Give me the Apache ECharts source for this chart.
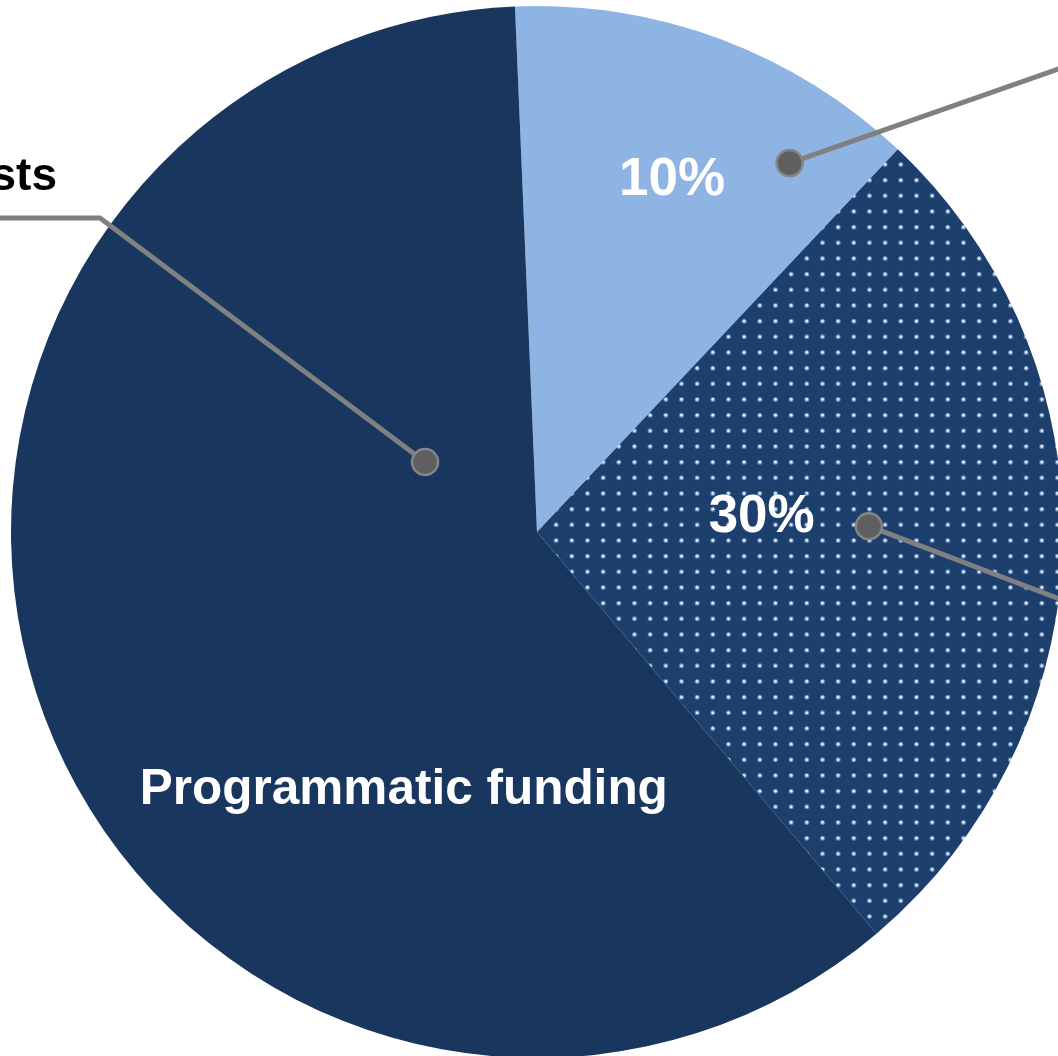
<!DOCTYPE html>
<html>
<head>
<meta charset="utf-8">
<script src="https://cdn.jsdelivr.net/npm/echarts@6/dist/echarts.min.js"></script>
<style>
html,body{margin:0;padding:0;background:#fff;}
#chart{width:1058px;height:1056px;}
</style>
</head>
<body>
<div id="chart"></div>
<script>
// ---- data ----
const categories = ['Indirect costs (light)', 'Indirect costs (dotted)', 'Programmatic funding'];
const values = [12.7, 26.8, 60.5];
const sliceLabels = ['10%', '30%', 'Programmatic funding'];
const outsideLabel = 'Indirect costs';

// ---- layout ----
const CX = 537, CY = 532, R = 526;
const labelPolar = [[69, 0.717], [3.6, 0.428], [242.7, 0.552]]; // [angle deg, radius fraction]

function polar(a, f) {
  const rad = a * Math.PI / 180;
  return [CX + Math.cos(rad) * R * f, CY - Math.sin(rad) * R * f];
}

// dotted pattern
const tile = document.createElement('canvas');
tile.width = 47; tile.height = 47;
const g = tile.getContext('2d');
g.fillStyle = '#1d3f6d';
g.fillRect(0, 0, 47, 47);
for (let i = 0; i < 3; i++) {
  for (let j = 0; j < 3; j++) {
    const x = 7.8 + 15.67 * i, y = 7.8 + 15.67 * j;
    g.fillStyle = 'rgba(170,198,235,0.55)';
    g.beginPath(); g.arc(x, y, 2.5, 0, Math.PI * 2); g.fill();
    g.fillStyle = 'rgba(228,238,252,0.95)';
    g.beginPath(); g.arc(x, y, 1.4, 0, Math.PI * 2); g.fill();
  }
}

const colors = ['#8eb4e3', { image: tile, repeat: 'repeat' }, '#18365e'];

const chart = echarts.init(document.getElementById('chart'), null, { renderer: 'canvas' });

const dotDark = polar(148, 0.251);
const dotLight = polar(55.6, 0.850);
const dotDotted = polar(1.0, 0.631);

const lineStyle = { stroke: '#808080', lineWidth: 5, fill: null };
const dotStyle = { fill: '#5f5f5f', stroke: '#858585', lineWidth: 2.5 };

chart.setOption({
  backgroundColor: '#ffffff',
  animation: false,
  series: [{
    type: 'pie',
    center: [CX, CY],
    radius: [0, R],
    startAngle: 92.4,
    clockwise: true,
    silent: true,
    data: categories.map((c, i) => ({
      name: c,
      value: values[i],
      itemStyle: { color: colors[i] }
    })),
    itemStyle: { borderWidth: 0 },
    label: {
      show: true,
      position: 'inside',
      formatter: p => sliceLabels[p.dataIndex],
      color: '#ffffff',
      fontFamily: 'Liberation Sans, Arial, sans-serif',
      fontWeight: 'bold',
      fontSize: 53
    },
    labelLine: { show: false },
    labelLayout: function (params) {
      const lp = labelPolar[params.dataIndex];
      const pt = polar(lp[0], lp[1]);
      return {
        x: pt[0], y: pt[1], align: 'center', verticalAlign: 'middle',
        fontSize: params.dataIndex === 2 ? 49.5 : 53
      };
    }
  }],
  graphic: [
    { type: 'polyline', z: 10, shape: { points: [dotDark, [100, 218], [-10, 218]] }, style: lineStyle },
    { type: 'polyline', z: 10, shape: { points: [dotLight, [1070, 65]] }, style: lineStyle },
    { type: 'polyline', z: 10, shape: { points: [dotDotted, [1070, 603]] }, style: lineStyle },
    { type: 'circle', z: 11, shape: { cx: dotDark[0], cy: dotDark[1], r: 13 }, style: dotStyle },
    { type: 'circle', z: 11, shape: { cx: dotLight[0], cy: dotLight[1], r: 13 }, style: dotStyle },
    { type: 'circle', z: 11, shape: { cx: dotDotted[0], cy: dotDotted[1], r: 13 }, style: dotStyle },
    {
      type: 'text', z: 12, x: 57, y: 177,
      style: {
        text: outsideLabel, fill: '#000000', align: 'right', verticalAlign: 'middle',
        font: 'bold 46px "Liberation Sans", Arial, sans-serif'
      }
    }
  ]
});
</script>
</body>
</html>
